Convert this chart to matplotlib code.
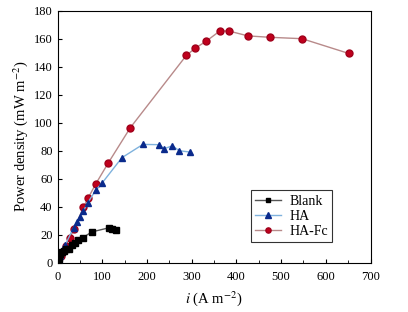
import numpy as np
import matplotlib
matplotlib.use('Agg')
from matplotlib import pyplot as plt
from matplotlib.ticker import MultipleLocator

plt.rcParams['font.family'] = ['Liberation Serif', 'DejaVu Serif']
plt.rcParams['mathtext.fontset'] = 'stix'

# Blank
blank_x = [0, 3, 6, 10, 15, 20, 25, 32, 39, 45, 57, 77, 116, 123, 130]
blank_y = [0, 3, 6.5, 7.5, 8.5, 9.5, 10, 12.5, 14, 16, 18, 22, 25, 24.3, 23.3]

# HA
ha_x = [0, 3, 6, 9, 12, 17, 36, 43, 51, 58, 68, 86, 100, 144, 191, 228, 238, 257, 272, 297]
ha_y = [0, 2.5, 5, 7.5, 10, 12.6, 25, 29, 33, 37, 43, 52, 57, 75, 84.5, 84.3, 81.4, 83.5, 80, 79]

# HA-Fc
fc_x = [0, 8, 18, 28, 37, 58, 69, 86, 114, 163, 288, 307, 333, 363, 383, 426, 475, 547, 651]
fc_y = [0, 5, 12, 18, 24, 39.5, 46.5, 56.5, 71.5, 96.5, 148, 153, 158.3, 165.5, 165.5, 162, 161, 160, 149.5]

fig = plt.figure(figsize=(4.08, 3.12), dpi=100)
ax = fig.add_axes([57.5 / 408, 1 - 262.7 / 312, 313 / 408, 252 / 312])

ax.plot(blank_x, blank_y, color='#555555', lw=1.0, marker='s', ms=4,
        mfc='black', mec='black', label='Blank', zorder=4)
ax.plot(ha_x, ha_y, color='#7fb2dd', lw=1.0, marker='^', ms=5,
        mfc='#0a2a8c', mec='#0a2a8c', label='HA', zorder=3)
ax.plot(fc_x, fc_y, color='#b88a8a', lw=1.0, marker='o', ms=5,
        mfc='#c0001c', mec='#a0001a', label='HA-Fc', zorder=2)

ax.set_xlim(0, 700)
ax.set_ylim(0, 180)
ax.xaxis.set_major_locator(MultipleLocator(100))
ax.xaxis.set_minor_locator(MultipleLocator(50))
ax.yaxis.set_major_locator(MultipleLocator(20))
ax.tick_params(direction='in', labelsize=9, length=3)
ax.tick_params(axis='x', pad=6)
ax.tick_params(which='minor', direction='in', length=2)

ax.set_xlabel(r'$i$ (A m$^{-2}$)', fontsize=10.5, labelpad=4)
ax.set_ylabel(r'Power density (mW m$^{-2}$)', fontsize=10.5, labelpad=3)

leg = ax.legend(loc='lower right', bbox_to_anchor=(0.90, 0.055), fontsize=10,
                frameon=True, fancybox=False, edgecolor='black',
                handlelength=1.9, borderpad=0.3, labelspacing=0.15,
                handletextpad=0.6, markerscale=0.75)
leg.get_frame().set_linewidth(0.8)

fig.savefig('out.png', dpi=100)
